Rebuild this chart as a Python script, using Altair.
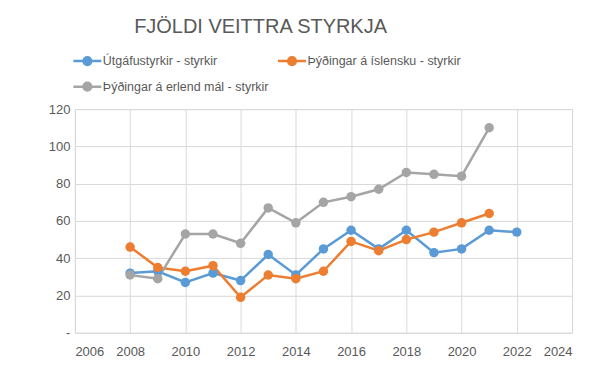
import altair as alt
import pandas as pd

years = list(range(2008, 2023))
utgafa = [32, 33, 27, 32, 28, 42, 31, 45, 55, 45, 55, 43, 45, 55, 54]
islensku = [46, 35, 33, 36, 19, 31, 29, 33, 49, 44, 50, 54, 59, 64, None]
erlend = [31, 29, 53, 53, 48, 67, 59, 70, 73, 77, 86, 85, 84, 110, None]

series_names = ["Útgáfustyrkir - styrkir", "Þýðingar á íslensku - styrkir", "Þýðingar á erlend mál - styrkir"]
series_values = [utgafa, islensku, erlend]
colors = ["#5B9BD5", "#ED7D31", "#A5A5A5"]
x_ticks = list(range(2006, 2025, 2))
y_ticks = [0, 20, 40, 60, 80, 100, 120]

rows = []
for order, (name, vals) in enumerate(zip(series_names, series_values)):
    for yr, v in zip(years, vals):
        if v is not None:
            rows.append({"year": yr, "value": v, "series": name, "order": order})
df = pd.DataFrame(rows)

FONT = "Liberation Sans"
GRAY = "#595959"

sym = "M-2,0L2,0M-0.55,0A0.55,0.55,0,1,1,0.55,0A0.55,0.55,0,1,1,-0.55,0Z"

color = alt.Color(
    "series:N",
    scale=alt.Scale(domain=series_names, range=colors),
    sort=series_names,
    legend=alt.Legend(
        title=None,
        orient="none",
        direction="horizontal",
        legendX=4,
        legendY=-57,
        columns=2,
        symbolType=sym,
        symbolSize=196,
        symbolStrokeWidth=2.5,
        labelFont=FONT,
        labelFontSize=12.5,
        labelColor=GRAY,
        labelLimit=400,
        labelOffset=7,
        columnPadding=3,
        rowPadding=7,
    ),
)

x = alt.X(
    "year:Q",
    scale=alt.Scale(domain=[2006, 2024], nice=False, zero=False),
    axis=alt.Axis(values=x_ticks, format="d", title=None, ticks=False, domain=False,
                  labelPadding=13, labelFont=FONT, labelFontSize=13, labelColor=GRAY,
                  gridColor="#D9D9D9", gridWidth=1),
)
y = alt.Y(
    "value:Q",
    scale=alt.Scale(domain=[0, 120], nice=False),
    axis=alt.Axis(values=y_ticks, title=None, ticks=False, domain=False,
                  labelExpr="datum.value == 0 ? '-' : datum.label",
                  labelPadding=5, labelFont=FONT, labelFontSize=13, labelColor=GRAY,
                  gridColor="#D9D9D9", gridWidth=1),
)

base = alt.Chart(df)
lines = base.mark_line(strokeWidth=2.5).encode(x=x, y=y, color=color, detail="series:N", order="year:Q")
points = base.mark_circle(size=90, opacity=1).encode(x=x, y=y, color=color)

chart = (
    alt.layer(lines, points)
    .properties(
        width=498,
        height=224,
        autosize=alt.AutoSizeParams(type="none"),
        padding={"left": 67, "top": 101, "right": 20, "bottom": 30},
        title=alt.Title(
            "FJÖLDI VEITTRA STYRKJA",
            font=FONT,
            fontSize=20,
            fontWeight="normal",
            color=GRAY,
            anchor="middle",
            dx=-63,
            offset=15,
        ),
    )
    .configure_view(stroke="#D9D9D9")
    .configure(background="white")
)

chart.save("out.html", embed_options={"renderer": "svg", "actions": False})
